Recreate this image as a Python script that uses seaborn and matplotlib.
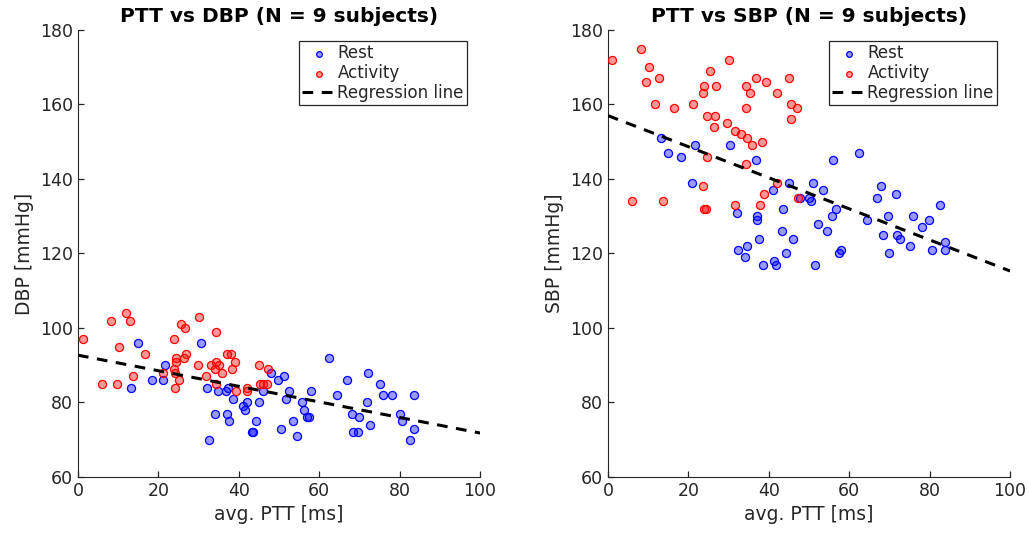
"""PTT vs DBP / SBP scatter with regression line (rest vs activity)."""
import matplotlib
matplotlib.use("Agg")
import matplotlib.pyplot as plt
import numpy as np
import pandas as pd
import seaborn as sns

# ---- data ----
# DBP panel
dbp_rest_ptt = [15.0, 13.3, 18.3, 21.2, 21.7, 30.5, 32.2, 34.8, 36.7, 37.3, 38.6, 41.1, 41.5, 42.0,
                45.0, 45.9, 48.0, 49.8, 34.2, 37.1, 37.6, 32.7, 44.3, 43.2, 43.6, 50.5, 62.5, 51.2,
                52.4, 51.7, 58.0, 55.6, 56.1, 56.9, 57.5, 53.5, 54.5, 67.0, 64.4, 68.1, 69.9, 68.5,
                69.7, 72.6, 72.1, 75.1, 75.9, 78.1, 71.8, 83.7, 80.0, 80.6, 83.7, 82.5]
dbp_rest = [96, 84, 86, 86, 90, 96, 84, 83, 83, 84, 81, 79, 78, 80,
            80, 83, 88, 86, 77, 77, 75, 70, 75, 72, 72, 73, 92, 87,
            83, 81, 83, 80, 78, 76, 76, 75, 71, 86, 82, 77, 76, 72,
            72, 74, 88, 85, 82, 82, 80, 82, 77, 75, 73, 70]
dbp_act_ptt = [1.2, 8.3, 11.9, 12.9, 10.2, 6.0, 9.6, 13.8, 16.6, 23.8, 25.6, 26.7, 30.2, 26.9,
               26.4, 24.5, 24.3, 23.9, 24.1, 21.2, 25.0, 24.2, 29.8, 31.8, 34.3, 34.4, 37.0, 38.1,
               39.0, 38.3, 35.8, 34.1, 33.2, 35.1, 34.3, 39.2, 42.0, 42.0, 45.0, 47.3, 45.3, 46.0,
               47.1]
dbp_act = [97, 102, 104, 102, 95, 85, 85, 87, 93, 97, 101, 100, 103, 93,
           92, 92, 91, 89, 88, 88, 86, 84, 90, 87, 99, 91, 93, 93,
           91, 89, 88, 89, 90, 90, 85, 83, 84, 83, 90, 89, 85, 85,
           85]

# SBP panel
sbp_rest_ptt = [13.1, 15.0, 18.2, 21.6, 30.4, 36.7, 21.0, 41.0, 45.1, 47.8, 32.0, 37.1, 37.1, 43.5,
                43.2, 46.1, 37.5, 34.6, 32.3, 34.0, 38.5, 41.3, 41.9, 44.2, 50.0, 50.4, 51.1, 53.4,
                56.0, 62.4, 56.7, 55.6, 52.2, 54.4, 57.9, 57.4, 51.5, 68.0, 66.8, 71.7, 64.4, 69.7,
                68.4, 71.8, 72.6, 69.8, 75.8, 78.1, 79.9, 82.5, 75.1, 80.6, 83.8, 83.8]
sbp_rest = [151, 147, 146, 149, 149, 145, 139, 137, 139, 135, 131, 130, 129, 132,
            126, 124, 124, 122, 121, 119, 117, 118, 117, 120, 135, 134, 139, 137,
            145, 147, 132, 130, 128, 126, 121, 120, 117, 138, 135, 136, 129, 130,
            125, 125, 124, 120, 130, 127, 129, 133, 122, 121, 123, 121]
sbp_act_ptt = [1.1, 8.2, 10.1, 9.5, 12.8, 11.8, 16.4, 21.1, 30.0, 25.4, 23.8, 26.9, 23.7, 24.5,
               26.5, 26.3, 29.6, 31.6, 33.1, 34.5, 35.7, 38.2, 34.2, 35.2, 36.9, 39.2, 42.1, 45.1,
               45.4, 47.1, 45.6, 34.3, 24.7, 34.2, 23.6, 6.0, 13.6, 23.9, 24.3, 31.7, 37.7, 38.8,
               42.0, 47.2]
sbp_act = [172, 175, 170, 166, 167, 160, 159, 160, 172, 169, 165, 165, 163, 157,
           157, 154, 155, 153, 152, 151, 149, 150, 165, 163, 167, 166, 163, 167,
           160, 159, 156, 159, 146, 144, 138, 134, 134, 132, 132, 133, 133, 136,
           139, 135]

# regression line coefficients as shown in the figure (fit on the full data set)
fit_intercept = [92.7, 157.0]
fit_slope = [-0.209, -0.417]

PANELS = [
    ("DBP", dbp_rest_ptt, dbp_rest, dbp_act_ptt, dbp_act),
    ("SBP", sbp_rest_ptt, sbp_rest, sbp_act_ptt, sbp_act),
]
N_SUBJECTS = 9

sns.set_style("ticks")
plt.rcParams["font.family"] = ["DejaVu Sans"]
plt.rcParams.update({
    "xtick.direction": "in", "ytick.direction": "in",
    "xtick.major.size": 4, "ytick.major.size": 4,
    "axes.edgecolor": "#262626", "xtick.color": "#262626", "ytick.color": "#262626",
    "axes.labelcolor": "#262626",
})

fig = plt.figure(figsize=(10.29, 5.38), dpi=100)
axes = [fig.add_axes([0.0758, 0.1134, 0.3907, 0.8309]),
        fig.add_axes([0.5909, 0.1134, 0.3907, 0.8309])]

for i, (ax, (name, rp, rv, ap, av)) in enumerate(zip(axes, PANELS)):
    rest = pd.DataFrame({"ptt": rp, "bp": rv})
    act = pd.DataFrame({"ptt": ap, "bp": av})
    sns.scatterplot(data=rest, x="ptt", y="bp", ax=ax, s=34, color=(0, 0, 1, 0.4),
                    edgecolor="blue", linewidth=0.9, label="Rest", zorder=3)
    sns.scatterplot(data=act, x="ptt", y="bp", ax=ax, s=34, color=(1, 0, 0, 0.4),
                    edgecolor="red", linewidth=0.9, label="Activity", zorder=3)

    xs = np.array([0, 100])
    ax.plot(xs, fit_intercept[i] + fit_slope[i] * xs, ls=(0, (3.5, 2.8)), lw=2.2,
            color="black", label="Regression line", zorder=4)

    ax.set_xlim(0, 100)
    ax.set_ylim(60, 180)
    ax.set_xticks(range(0, 101, 20))
    ax.set_yticks(range(60, 181, 20))
    ax.tick_params(labelsize=12.5, width=0.9)
    ax.set_xlabel("avg. PTT [ms]", fontsize=13.5)
    ax.set_ylabel(f"{name} [mmHg]", fontsize=13.5)
    ax.set_title(f"PTT vs {name} (N = {N_SUBJECTS} subjects)", fontsize=14.5,
                 fontweight="bold", color="black")
    sns.despine(ax=ax)
    leg = ax.legend(loc="upper right", bbox_to_anchor=(0.968, 0.975), fontsize=12,
                    frameon=True, fancybox=False, framealpha=1, edgecolor="#262626",
                    borderpad=0.2, labelspacing=0.1, handlelength=2.0, handletextpad=0.1,
                    markerscale=0.7, borderaxespad=0)
    leg.get_frame().set_linewidth(0.9)

fig.savefig("out.png", dpi=100)
